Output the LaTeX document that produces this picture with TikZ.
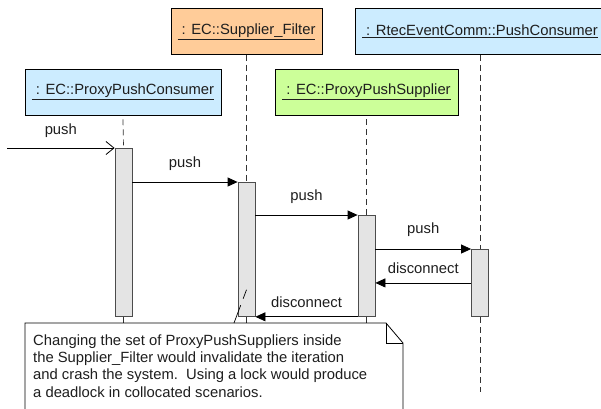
\documentclass[tikz,border=0pt]{standalone}
\usepackage{fontspec}
\setmainfont{Liberation Sans}
\usetikzlibrary{arrows.meta,calc}

\definecolor{objblue}{HTML}{CCECFF}
\definecolor{objorange}{HTML}{FFCC99}
\definecolor{objgreen}{HTML}{CCFF99}
\definecolor{actgray}{HTML}{E4E4E4}
\definecolor{inkgray}{HTML}{1E1E1E}

\tikzset{
  base font/.style={font=\fontsize{14.8}{17.3}\selectfont, text=inkgray},
  objbox/.style={draw=black, line width=0.8pt, base font, inner sep=0pt,
                 minimum height=46pt},
  activation/.style={draw=black!70, fill=actgray, line width=0.8pt,
                     minimum width=17pt, inner sep=0pt},
  lifeline/.style={draw=black!80, line width=0.7pt, dash pattern=on 6pt off 4pt},
  sync/.style={draw=black, line width=0.8pt, -{Triangle[length=10pt,width=9pt]}},
  async/.style={draw=black, line width=0.8pt, -{Straight Barb[length=8pt,width=13pt]}},
  msglabel/.style={base font, anchor=base, inner sep=0pt},
  notelink/.style={draw=black, line width=0.7pt, dash pattern=on 19pt off 7pt},
}

\begin{document}
\begin{tikzpicture}[x=1pt, y=-1pt]
  \clip (0,0) rectangle (601,408);
  \fill[white] (0,0) rectangle (601,408);

  % participants
  \node[objbox, fill=objblue,   minimum width=196pt] (ppc) at (123,92)
    {\underline{\ : EC::ProxyPushConsumer}};
  \node[objbox, fill=objorange, minimum width=151pt] (sf)  at (246.5,31.5)
    {\underline{\ : EC::Supplier\_Filter}};
  \node[objbox, fill=objgreen,  minimum width=183pt] (pps) at (366.5,92)
    {\underline{\ : EC::ProxyPushSupplier}};
  \node[objbox, fill=objblue,   minimum width=250pt] (rpc) at (480,31.5)
    {\underline{\ : RtecEventComm::PushConsumer}};

  % activation bars
  \node[activation, anchor=north, minimum height=168pt] (a1) at (123.5,148) {};
  \node[activation, anchor=north, minimum height=134pt] (a2) at (246.5,182) {};
  \node[activation, anchor=north, minimum height=101pt] (a3) at (366.5,215) {};
  \node[activation, anchor=north, minimum height=67pt]  (a4) at (480,249) {};

  % lifelines
  \draw[lifeline] ([yshift=-4pt]ppc.south) -- (a1.north);
  \draw[lifeline] (sf.south) -- (a2.north);
  \draw[lifeline] ([yshift=-4pt]pps.south) -- (a3.north);
  \draw[lifeline] (rpc.south) -- (a4.north);
  \coordinate (e1) at (123.5,412);
  \coordinate (e2) at (246.5,412);
  \coordinate (e3) at (366.5,412);
  \coordinate (e4) at (480,392);
  \draw[lifeline] (a1.south) -- (e1);
  \draw[lifeline] (a2.south) -- (e2);
  \draw[lifeline] (a3.south) -- (e3);
  \draw[lifeline] (a4.south) -- (e4);

  % messages
  \coordinate (src) at (7,148);
  \draw[async] (src) -- (a1.north west)
    node[msglabel, midway, yshift=14pt] {push};
  \draw[sync] (a1.east |- a2.north) -- (a2.north west)
    node[msglabel, midway, yshift=15pt] {push};
  \draw[sync] (a2.east |- a3.north) -- (a3.north west)
    node[msglabel, midway, yshift=15pt] {push};
  \draw[sync] (a3.east |- a4.north) -- (a4.north west)
    node[msglabel, midway, yshift=16pt] {push};
  \draw[sync] ($(a4.north west)!0.5!(a4.south west)$) -- (a3.east |- a4.west)
    node[msglabel, midway, yshift=9pt] {disconnect};
  \draw[sync] (a3.south west) -- (a2.south east)
    node[msglabel, midway, yshift=9pt] {disconnect};

  % note
  \filldraw[fill=white, draw=black, line width=0.8pt]
    (25,412) -- (25,323) -- (386,323) coordinate (fold)
    -- (403,343) coordinate (foldend) -- (403,412);
  \draw[line width=0.8pt] (fold) -- (fold |- foldend) -- (foldend);
  \node[base font, anchor=north west, inner sep=0pt, align=left] (note) at (33,334.3)
    {Changing the set of ProxyPushSuppliers inside\\
     the Supplier\_Filter would invalidate the iteration\\
     and crash the system.\ \ Using a lock would produce\\
     a deadlock in collocated scenarios.};
  \coordinate (notetip) at (234,323);
  \draw[notelink] (notetip) -- ($(a2.south)+(0,-27)$);
\end{tikzpicture}
\end{document}
